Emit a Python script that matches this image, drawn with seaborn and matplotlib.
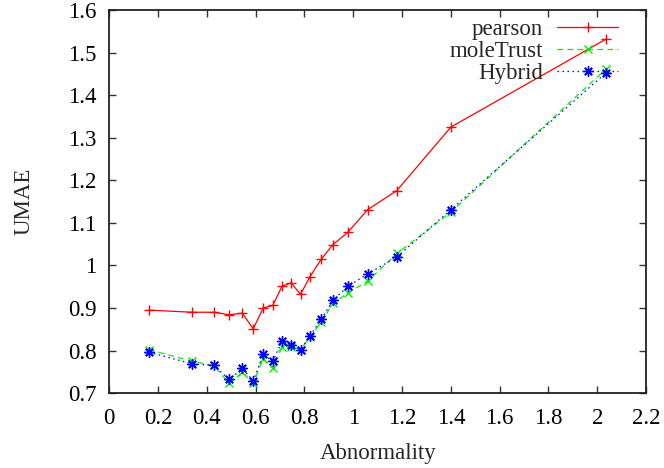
import matplotlib
matplotlib.use("Agg")
import matplotlib.pyplot as plt
import seaborn as sns
import pandas as pd

# Abnormality level of each test group
abnormality = [0.163, 0.339, 0.428, 0.492, 0.545, 0.590, 0.631, 0.670, 0.708, 0.745,
               0.784, 0.822, 0.868, 0.917, 0.978, 1.059, 1.179, 1.400, 2.037]

# UMAE per method
pearson = [0.895, 0.890, 0.890, 0.884, 0.888, 0.851, 0.900, 0.906, 0.951, 0.959,
           0.932, 0.973, 1.014, 1.049, 1.078, 1.131, 1.176, 1.325, 1.532]
mole_trust = [0.802, 0.775, 0.765, 0.723, 0.749, 0.723, 0.781, 0.758, 0.808, 0.809,
              0.802, 0.831, 0.866, 0.911, 0.935, 0.963, 1.028, 1.125, 1.462]
hybrid = [0.796, 0.769, 0.765, 0.732, 0.758, 0.729, 0.791, 0.775, 0.822, 0.814,
          0.802, 0.834, 0.873, 0.918, 0.951, 0.980, 1.020, 1.131, 1.453]

x_ticks = [0, 0.2, 0.4, 0.6, 0.8, 1, 1.2, 1.4, 1.6, 1.8, 2, 2.2]
x_tick_labels = ["0", "0.2", "0.4", "0.6", "0.8", "1", "1.2", "1.4", "1.6", "1.8", "2", "2.2"]
y_ticks = [0.7, 0.8, 0.9, 1.0, 1.1, 1.2, 1.3, 1.4, 1.5, 1.6]
y_tick_labels = ["0.7", "0.8", "0.9", "1", "1.1", "1.2", "1.3", "1.4", "1.5", "1.6"]

sns.set_style("ticks")
plt.rcParams["font.family"] = ["Liberation Serif", "DejaVu Serif"]
FS = 16.5
plt.rcParams["font.size"] = FS

fig = plt.figure(figsize=(6.64, 4.68), dpi=100)
ax = fig.add_axes([0.1646, 0.160, 0.8084, 0.8186])

df = pd.DataFrame({"x": abnormality, "pearson": pearson,
                   "moleTrust": mole_trust, "Hybrid": hybrid})

series = [
    ("pearson", "#ff0000", "+", 7.5, "-"),
    ("moleTrust", "#00ee00", "x", 6, (0, (4.5, 3.5))),
    ("Hybrid", "#0000ff", (8, 2, 0), 7.5, (0, (1.2, 2.8))),
]
for name, color, mk, ms, ls in series:
    sns.lineplot(data=df, x="x", y=name, ax=ax, color=color, linewidth=0.9,
                 marker=mk, markersize=ms, markeredgewidth=1.0,
                 markeredgecolor=color, markerfacecolor=color,
                 linestyle=ls, label=name)

ax.set_xlim(0, 2.2)
ax.set_ylim(0.7, 1.6)
ax.set_xticks(x_ticks)
ax.set_xticklabels(x_tick_labels)
ax.set_yticks(y_ticks)
ax.set_yticklabels(y_tick_labels)
ax.set_xlabel("Abnormality", fontsize=FS, labelpad=10)
ax.set_ylabel("UMAE", fontsize=FS, labelpad=24)

for side in ["top", "right", "bottom", "left"]:
    ax.spines[side].set_visible(True)
    ax.spines[side].set_color("#222222")
    ax.spines[side].set_linewidth(1.3)

ax.tick_params(axis="both", which="major", direction="in", length=5, width=1.0,
               top=True, right=True, bottom=True, left=True,
               labelsize=FS, color="#333333", labelcolor="black")
ax.tick_params(axis="x", pad=11)
ax.tick_params(axis="y", pad=9)

leg = ax.legend(loc="upper right", bbox_to_anchor=(0.948, 0.977), frameon=False,
                markerfirst=False, handlelength=2.65, handletextpad=0.62,
                labelspacing=0.05, borderpad=0, borderaxespad=0, fontsize=FS,
                numpoints=1)
for t in leg.get_texts():
    t.set_ha("right")
leg._legend_box.align = "right"

fig.savefig("out.png", dpi=100)
